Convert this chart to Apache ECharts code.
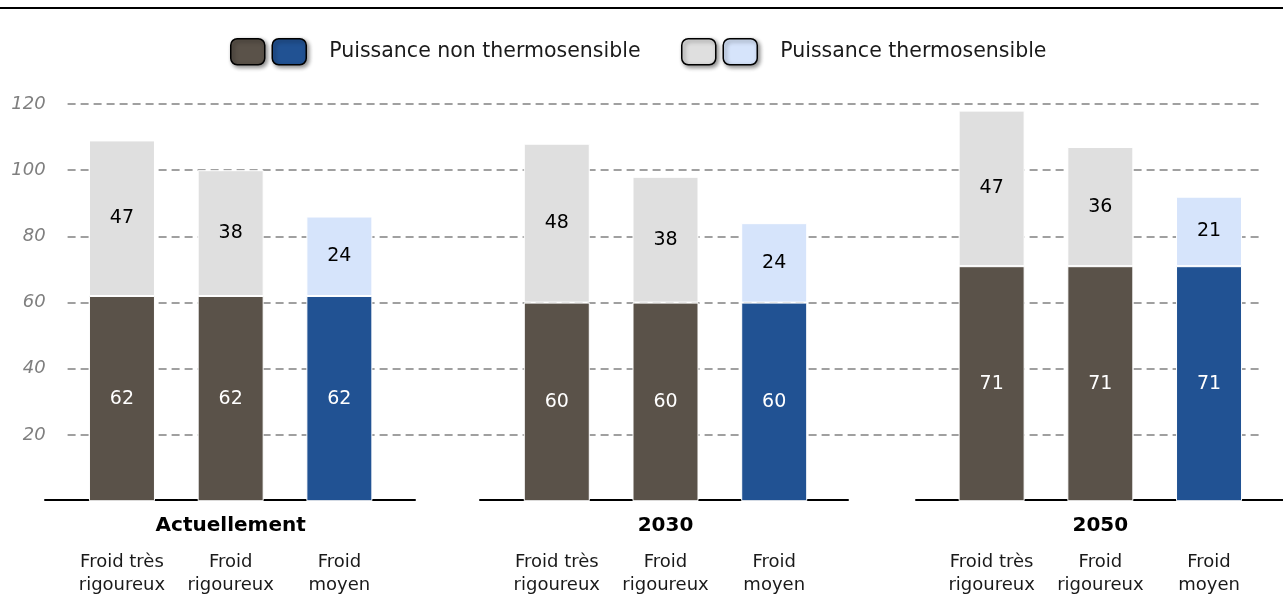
<!DOCTYPE html>
<html>
<head>
<meta charset="utf-8">
<script src="https://cdn.jsdelivr.net/npm/echarts@6/dist/echarts.min.js"></script>
<style>
  html, body { margin: 0; padding: 0; background: #fff; }
  #chart { width: 1283px; height: 597px; }
</style>
</head>
<body>
<div id="chart"></div>
<script>
// Horizons and weather scenarios
const groups = ['Actuellement', '2030', '2050'];
const levels = ['Froid très\nrigoureux', 'Froid\nrigoureux', 'Froid\nmoyen'];

// Power values (GW) per horizon, one entry per scenario
const nonThermo = [[62, 62, 62], [60, 60, 60], [71, 71, 71]];
const thermo = [[47, 38, 24], [48, 38, 24], [47, 36, 21]];

const yTicks = [0, 20, 40, 60, 80, 100, 120];

const FONT = '"DejaVu Sans", sans-serif';
const C_BROWN = '#5a5249';
const C_BLUE = '#215293';
const C_GREY = '#dfdfdf';
const C_LBLUE = '#d6e4fb';

const NAME_NT_A = 'Puissance non thermosensible (froid rigoureux)';
const NAME_NT_B = 'Puissance non thermosensible';
const NAME_T_A = 'Puissance thermosensible (froid rigoureux)';
const NAME_T_B = 'Puissance thermosensible';

// Build the category list: three scenarios per horizon, an empty slot between horizons
const categories = [];
const ntA = [], ntB = [], tA = [], tB = [];
groups.forEach((g, gi) => {
  if (gi > 0) {
    categories.push('gap' + gi);
    ntA.push('-'); ntB.push('-'); tA.push('-'); tB.push('-');
  }
  levels.forEach((l, li) => {
    categories.push(g + '|' + li + '|' + l);
    const moyen = li === 2;
    ntA.push(moyen ? '-' : nonThermo[gi][li]);
    ntB.push(moyen ? nonThermo[gi][li] : '-');
    tA.push(moyen ? '-' : thermo[gi][li]);
    tB.push(moyen ? thermo[gi][li] : '-');
  });
});

function barSeries(name, data, color, labelColor) {
  return {
    name: name,
    type: 'bar',
    stack: 'puissance',
    data: data,
    barWidth: 66,
    itemStyle: { color: color, borderColor: '#ffffff', borderWidth: 1 },
    label: {
      show: true,
      position: 'inside',
      color: labelColor,
      fontFamily: FONT,
      fontSize: 19
    },
    emphasis: { disabled: true },
    xAxisIndex: 0,
    yAxisIndex: 0
  };
}

const chart = echarts.init(document.getElementById('chart'), null, { renderer: 'canvas' });

const legendCommon = {
  top: 38,
  padding: 0,
  itemWidth: 34,
  itemHeight: 26,
  itemGap: 6,
  icon: 'roundRect',
  selectedMode: false,
  itemStyle: {
    borderColor: '#000',
    borderWidth: 1.5,
    shadowBlur: 4,
    shadowOffsetX: 2,
    shadowOffsetY: 2,
    shadowColor: 'rgba(0,0,0,0.45)'
  },
  textStyle: { fontFamily: FONT, fontSize: 20.5, color: '#1a1a1a' }
};

// Short baselines under each horizon
const baseGrids = [
  { left: 45, width: 370 },
  { left: 480, width: 368 },
  { left: 916, width: 367 }
];

const option = {
  animation: false,
  backgroundColor: '#fff',
  graphic: [{
    type: 'rect',
    shape: { x: 0, y: 7, width: 1283, height: 2 },
    style: { fill: '#000' }
  }],
  legend: [
    Object.assign({}, legendCommon, {
      left: 230,
      data: [
        { name: NAME_NT_A, textStyle: { padding: 0 } },
        { name: NAME_NT_B, textStyle: { padding: [0, 0, 0, 18] } }
      ],
      formatter: n => (n === NAME_NT_B ? n : '')
    }),
    Object.assign({}, legendCommon, {
      left: 681,
      data: [
        { name: NAME_T_A, textStyle: { padding: 0 } },
        { name: NAME_T_B, textStyle: { padding: [0, 0, 0, 18] } }
      ],
      formatter: n => (n === NAME_T_B ? n : '')
    })
  ],
  grid: [
    { left: 67.6, right: 19.6, top: 104, bottom: 95.8 }
  ].concat(baseGrids.map(b => ({ left: b.left, width: b.width, top: 104, bottom: 97 }))),
  xAxis: [
    {
      gridIndex: 0,
      type: 'category',
      data: categories,
      axisLine: { show: false },
      axisTick: { show: false },
      axisLabel: {
        interval: 0,
        margin: 0,
        formatter: function (v) {
          if (v.indexOf('gap') === 0) return '';
          const parts = v.split('|');
          const head = parts[1] === '1' ? parts[0] : ' ';
          const lines = parts[2].split('\n');
          return '{g|' + head + '}\n{c|' + lines[0] + '}\n{c|' + lines[1] + '}';
        },
        rich: {
          g: { fontFamily: FONT, fontSize: 20, fontWeight: 'bold', color: '#000', lineHeight: 50 },
          c: { fontFamily: FONT, fontSize: 18, color: '#1a1a1a', lineHeight: 23 }
        }
      }
    }
  ].concat(baseGrids.map((b, i) => ({
    gridIndex: i + 1,
    type: 'category',
    data: [groups[i]],
    axisLine: { show: true, lineStyle: { color: '#000', width: 2 } },
    axisTick: { show: false },
    axisLabel: { show: false }
  }))),
  yAxis: [
    {
      gridIndex: 0,
      type: 'value',
      min: yTicks[0],
      max: yTicks[yTicks.length - 1],
      interval: yTicks[1] - yTicks[0],
      axisLine: { show: false },
      axisTick: { show: false },
      axisLabel: {
        margin: 22,
        showMinLabel: false,
        fontFamily: FONT,
        fontStyle: 'italic',
        fontSize: 18,
        color: '#7f7f7f'
      },
      splitLine: {
        show: true,
        showMinLine: false,
        lineStyle: { color: '#a0a0a0', width: 2, type: [8, 5] }
      }
    }
  ].concat(baseGrids.map((b, i) => ({
    gridIndex: i + 1,
    type: 'value',
    show: false,
    min: 0,
    max: 1,
    splitLine: { show: false }
  }))),
  series: [
    barSeries(NAME_NT_A, ntA, C_BROWN, '#ffffff'),
    barSeries(NAME_NT_B, ntB, C_BLUE, '#ffffff'),
    barSeries(NAME_T_A, tA, C_GREY, '#000000'),
    barSeries(NAME_T_B, tB, C_LBLUE, '#000000')
  ]
};

chart.setOption(option);
</script>
</body>
</html>
